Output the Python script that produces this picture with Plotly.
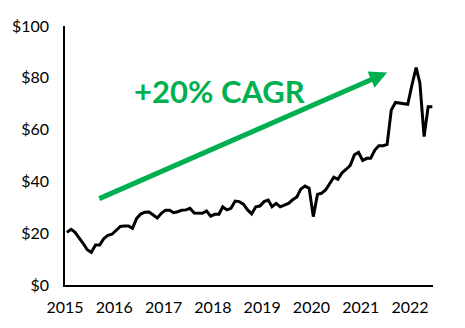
import plotly.graph_objects as go

# Monthly price, Jan 2015 - Jun 2022 (plotted mid-month)
months = [f"{2015 + i // 12}-{i % 12 + 1:02d}-15" for i in range(90)]
price = [
    20.3, 21.5, 20.4, 18.4, 16.1, 13.6, 12.6, 15.4, 15.4, 17.9, 19.2, 19.6,
    21.0, 22.6, 22.8, 22.8, 21.9, 25.7, 27.4, 28.1, 28.2, 26.9, 25.9, 27.7,
    28.9, 28.9, 27.9, 28.3, 28.9, 29.0, 29.6, 27.8, 27.7, 27.7, 28.6, 26.6,
    27.3, 27.3, 30.2, 29.0, 29.6, 32.4, 32.2, 31.2, 29.0, 27.5, 30.2, 30.5,
    32.2, 32.8, 30.2, 31.5, 30.2, 30.8, 31.5, 32.9, 34.0, 37.1, 38.2, 37.4,
    26.4, 35.0, 35.4, 36.7, 38.9, 41.6, 40.8, 43.3, 44.7, 46.2, 50.3, 51.2,
    48.1, 48.9, 48.9, 52.1, 53.8, 53.8, 54.3, 67.6, 70.5, 70.2, 70.0, 69.8,
    77.2, 83.9, 77.9, 57.3, 68.8, 68.8,
]

# Trend arrow endpoints (date, value) and label
arrow_start = ("2015-09-01", 33.1)
arrow_end = ("2021-07-15", 82.0)
cagr_label = "+20% CAGR"

GREEN = "#00B050"
FONT = "Lato, Calibri, sans-serif"

fig = go.Figure()
fig.add_trace(go.Scatter(
    x=months, y=price, mode="lines",
    line=dict(color="black", width=3),
    hoverinfo="skip", showlegend=False,
))

fig.add_annotation(
    x=arrow_end[0], y=arrow_end[1], xref="x", yref="y",
    ax=arrow_start[0], ay=arrow_start[1], axref="x", ayref="y",
    text="", showarrow=True, arrowhead=2, arrowsize=0.7,
    arrowwidth=5, arrowcolor=GREEN,
)
fig.add_annotation(
    x="2018-02-18", y=74.8, xref="x", yref="y",
    text=f"<b>{cagr_label}</b>", showarrow=False,
    font=dict(family=FONT, size=31, color=GREEN),
)

fig.update_layout(
    width=465, height=328,
    margin=dict(l=59, r=32, t=26, b=43),
    plot_bgcolor="white", paper_bgcolor="white",
    font=dict(family=FONT, size=16, color="black"),
    xaxis=dict(
        type="date", range=["2015-01-01", "2022-06-20"],
        tick0="2015-01-01", dtick="M12", tickformat="%Y",
        showgrid=False, zeroline=False,
        showline=True, linecolor="black", linewidth=1.5,
        ticks="outside", ticklen=7, tickcolor="rgba(0,0,0,0)",
    ),
    yaxis=dict(
        range=[0, 100], dtick=20, tickprefix="$",
        showgrid=False, zeroline=False,
        showline=True, linecolor="black", linewidth=1.5,
        ticks="outside", ticklen=11, tickcolor="rgba(0,0,0,0)",
    ),
)

fig.write_html("out.html")
